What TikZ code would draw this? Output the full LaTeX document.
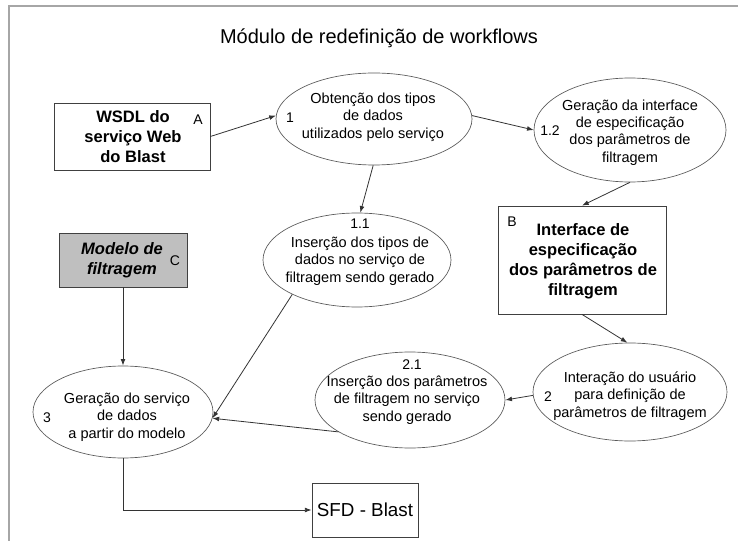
\documentclass[tikz,border=0pt]{standalone}
\usepackage{fontspec}
\setmainfont{Liberation Sans}
\usetikzlibrary{shapes.geometric,arrows.meta}
\begin{document}
\begin{tikzpicture}[x=0.75pt,y=-0.75pt,
  proc/.style={ellipse,draw=black!65,line width=0.5pt,inner sep=0pt},
  store/.style={rectangle,draw=black!75,line width=0.6pt,inner sep=0pt},
  txt/.style={align=center,font=\fontsize{10.9}{13.1}\selectfont,inner sep=0pt},
  btxt/.style={align=center,font=\fontsize{12.4}{15}\selectfont\bfseries,inner sep=0pt},
  tag/.style={font=\fontsize{10.5}{12}\selectfont,inner sep=0pt},
  flow/.style={draw=black!80,line width=0.6pt,-{Latex[length=5pt,width=3.6pt]}}
]
\useasboundingbox (0,0) rectangle (738,541);

% frame
\draw[black!35,line width=1.5pt] (9,541) -- (9,6) -- (738,6);

% title
\node[font=\fontsize{15}{18}\selectfont,inner sep=0pt] (title) at (379,38) {Módulo de redefinição de workflows};

% data stores
\node[store,minimum width=117pt,minimum height=50.25pt] (A) at (132,136.5) {};
\node[btxt] (Atxt) at (133,137) {WSDL do\\serviço Web\\do Blast};
\node[tag] (Atag) at (198,120) {A};

\node[store,minimum width=126pt,minimum height=81pt] (B) at (582,260) {};
\node[btxt] (Btxt) at (583,261.5) {Interface de\\especificação\\dos parâmetros de\\filtragem};
\node[tag] (Btag) at (512,222) {B};

\node[store,fill=black!25,minimum width=96pt,minimum height=40.5pt] (C) at (123,260) {};
\node[btxt,font=\fontsize{12.4}{15}\selectfont\bfseries\itshape] (Ctxt) at (122,260) {Modelo de\\filtragem};
\node[tag] (Ctag) at (175,261) {C};

\node[store,minimum width=79.5pt,minimum height=40.5pt] (sfd) at (365,510) {};
\node[font=\fontsize{14.1}{17}\selectfont,inner sep=0pt] (sfdtxt) at (365,510) {SFD - Blast};

% processes
\node[proc,minimum width=147pt,minimum height=69pt] (e1) at (374,119) {};
\node[txt] (e1txt) at (373,117) {Obtenção dos tipos\\de dados\\utilizados pelo serviço};
\node[tag] (e1tag) at (290,118) {1};

\node[proc,minimum width=144pt,minimum height=78pt] (e12) at (630,130) {};
\node[txt] (e12txt) at (630,132.5) {Geração da interface\\de especificação\\dos parâmetros de\\filtragem};
\node[tag] (e12tag) at (550,131) {1.2};

\node[proc,minimum width=141pt,minimum height=70.5pt] (e11) at (357,260) {};
\node[tag] (e11tag) at (360,224) {1.1};
\node[txt] (e11txt) at (360,261) {Inserção dos tipos de\\dados no serviço de\\filtragem sendo gerado};

\node[proc,minimum width=135pt,minimum height=69pt] (e3) at (123,412) {};
\node[txt] (e3txt) at (127,417) {Geração do serviço\\de dados\\a partir do modelo};
\node[tag] (e3tag) at (47,418) {3};

\node[proc,minimum width=142.5pt,minimum height=72pt] (e21) at (410,400) {};
\node[tag] (e21tag) at (412,365) {2.1};
\node[txt] (e21txt) at (407,400) {Inserção dos parâmetros\\de filtragem no serviço\\sendo gerado};

\node[proc,minimum width=145.5pt,minimum height=73.5pt] (e2) at (630,392) {};
\node[txt] (e2txt) at (630,396) {Interação do usuário\\para definição de\\parâmetros de filtragem};
\node[tag] (e2tag) at (548,397) {2};

% flows
\draw[flow] (A.east) -- (e1.178);
\draw[flow] (e1.2) -- (e12.180);
\draw[flow] (e1.-91) -- (e11.86);
\draw[flow] (e12.south) -- (B.north);
\draw[flow] (B.south) -- (e2.93);
\draw[flow] (e2.182) -- (e21.0);
\draw[flow] (C.south) -- (e3.north);
\draw[flow] (e11.208) -- (e3.-4);
\draw[flow] (e21.204) -- (e3.-4);
\draw[flow] (e3.south) |- (sfd.west);
\end{tikzpicture}
\end{document}
